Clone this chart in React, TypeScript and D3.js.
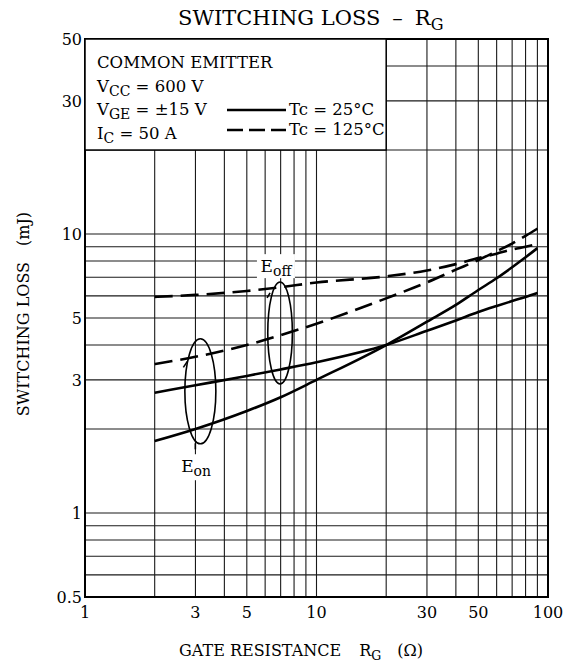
import React from "react";
import * as d3 from "d3";

// ---- data ----
const rgPoints = [2, 3, 5, 7, 10, 20, 30, 40, 50, 60, 70, 80, 90];
const lossHotSteep = [3.42, 3.63, 4.0, 4.34, 4.77, 5.88, 6.71, 7.45, 8.07, 8.68, 9.24, 9.85, 10.45];
const lossHotFlat = [5.95, 6.05, 6.25, 6.45, 6.7, 7.05, 7.4, 7.8, 8.2, 8.5, 8.8, 9.0, 9.2];
const lossRoomSteep = [1.81, 2.0, 2.32, 2.6, 3.0, 4.0, 4.85, 5.57, 6.3, 6.94, 7.6, 8.25, 8.9];
const lossRoomFlat = [2.7, 2.87, 3.1, 3.27, 3.47, 4.0, 4.5, 4.9, 5.25, 5.52, 5.75, 5.95, 6.15];

const xTickValues = [1, 3, 5, 10, 30, 50, 100];
const yTickValues = [0.5, 1, 3, 5, 10, 30, 50];
const xGridValues = [2, 3, 4, 5, 6, 7, 8, 9, 10, 20, 30, 40, 50, 60, 70, 80, 90];
const yGridValues = [0.6, 0.7, 0.8, 0.9, 1, 2, 3, 4, 5, 6, 7, 8, 9, 10, 20, 30, 40];

const legendBoxCorner = { x: 20, y: 20 };

const FONT = "'DejaVu Serif', serif";

export default function App() {
  const left = 85, right = 548, top = 39, bottom = 597;
  const x = d3.scaleLog().domain([1, 100]).range([left, right]);
  const y = d3.scaleLog().domain([0.5, 50]).range([bottom, top]);

  const line = d3
    .line<[number, number]>()
    .x((d) => x(d[0]))
    .y((d) => y(d[1]))
    .curve(d3.curveMonotoneX);

  const series = [
    { values: lossHotSteep, dash: "18,8" },
    { values: lossHotFlat, dash: "18,8" },
    { values: lossRoomSteep, dash: null },
    { values: lossRoomFlat, dash: null },
  ];

  const gridColor = "#1a1a1a";

  // annotation ellipses (data-space centers)
  const eonC = { x: 3.15, y: 2.73 };
  const eoffC = { x: 6.96, y: 4.42 };

  return (
    <svg
      width={568}
      height={668}
      style={{ position: "absolute", left: 0, top: 0, background: "#fff" }}
      fontFamily={FONT}
    >
      <rect x={0} y={0} width={568} height={668} fill="#fff" />
      {/* title */}
      <text x={178} y={25} fontSize={21}>
        SWITCHING LOSS
        <tspan dx={12}>–</tspan>
        <tspan dx={12}>R</tspan>
        <tspan fontSize={16} dy={5}>G</tspan>
      </text>

      {/* grid: vertical */}
      {xGridValues.map((v) => (
        <line
          key={"vx" + v}
          x1={x(v)}
          x2={x(v)}
          y1={y(0.5)}
          y2={v < legendBoxCorner.x ? y(legendBoxCorner.y) : y(50)}
          stroke={gridColor}
          strokeWidth={1.1}
        />
      ))}
      {/* grid: horizontal */}
      {yGridValues.map((v) => (
        <line
          key={"hy" + v}
          x1={v > legendBoxCorner.y ? x(legendBoxCorner.x) : x(1)}
          x2={x(100)}
          y1={y(v)}
          y2={y(v)}
          stroke={gridColor}
          strokeWidth={1.1}
        />
      ))}

      {/* frame */}
      <rect
        x={x(1)}
        y={y(50)}
        width={x(100) - x(1)}
        height={y(0.5) - y(50)}
        fill="none"
        stroke="#000"
        strokeWidth={2}
      />

      {/* curves */}
      {series.map((s, i) => (
        <path
          key={"s" + i}
          d={line(rgPoints.map((r, j) => [r, s.values[j]]) as [number, number][]) || ""}
          fill="none"
          stroke="#000"
          strokeWidth={2.6}
          strokeDasharray={s.dash || undefined}
        />
      ))}

      {/* annotations */}
      <ellipse cx={x(eonC.x)} cy={y(eonC.y)} rx={15.5} ry={52.5} fill="none" stroke="#000" strokeWidth={1.6} />
      <line x1={x(eonC.x) - 5} x2={x(eonC.x) - 5} y1={y(eonC.y) + 52} y2={y(eonC.y) + 58} stroke="#000" strokeWidth={1.6} />
      <path
        d={`M${x(eonC.x) - 13},${y(eonC.y) - 30} l-4,6`}
        fill="none"
        stroke="#000"
        strokeWidth={1.6}
      />
      <ellipse cx={x(eoffC.x)} cy={y(eoffC.y)} rx={12.3} ry={51} fill="none" stroke="#000" strokeWidth={1.6} />
      <path
        d={`M${x(eoffC.x) - 10},${y(eoffC.y) - 40} l-3,5`}
        fill="none"
        stroke="#000"
        strokeWidth={1.6}
      />

      <rect x={x(6.68) - 19} y={y(7.3) - 18} width={38} height={24} fill="#fff" />
      <text x={x(6.68)} y={y(7.3)} textAnchor="middle" fontSize={17}>
        E<tspan fontSize={14} dy={4}>off</tspan>
      </text>
      <rect x={x(3.02) - 19} y={y(1.4) - 18} width={38} height={26} fill="#fff" />
      <text x={x(3.02)} y={y(1.4)} textAnchor="middle" fontSize={17}>
        E<tspan fontSize={14} dy={4}>on</tspan>
      </text>

      {/* legend box */}
      <rect
        x={x(1)}
        y={y(50)}
        width={x(legendBoxCorner.x) - x(1)}
        height={y(legendBoxCorner.y) - y(50)}
        fill="#fff"
        stroke="#000"
        strokeWidth={1.5}
      />
      <g fontSize={16.5}>
        <text x={97} y={68}>COMMON EMITTER</text>
        <text x={97} y={92}>
          V<tspan fontSize={14} dy={4}>CC</tspan>
          <tspan dy={-4}> = 600 V</tspan>
        </text>
        <text x={97} y={115}>
          V<tspan fontSize={14} dy={4}>GE</tspan>
          <tspan dy={-4}> = ±15 V</tspan>
        </text>
        <text x={97} y={139}>
          I<tspan fontSize={14} dy={4}>C</tspan>
          <tspan dy={-4}> = 50 A</tspan>
        </text>
        <line x1={227} x2={286} y1={110} y2={110} stroke="#000" strokeWidth={2.6} />
        <line x1={227} x2={286} y1={130} y2={130} stroke="#000" strokeWidth={2.6} strokeDasharray="16,6" />
        <text x={289} y={115}>Tc = 25°C</text>
        <text x={289} y={135}>Tc = 125°C</text>
      </g>

      {/* tick labels */}
      {yTickValues.map((v) => (
        <text key={"yt" + v} x={left - 3} y={y(v) + 6} textAnchor="end" fontSize={16}>
          {v}
        </text>
      ))}
      {xTickValues.map((v) => (
        <text key={"xt" + v} x={x(v)} y={bottom + 21} textAnchor="middle" fontSize={16}>
          {v}
        </text>
      ))}

      {/* axis titles */}
      <text x={179} y={656} fontSize={16}>
        GATE RESISTANCE
        <tspan dx={18}>R</tspan>
        <tspan fontSize={12.5} dy={4}>G</tspan>
        <tspan dx={16} dy={-4}>(Ω)</tspan>
      </text>
      <text
        transform={`translate(29, 314) rotate(-90)`}
        textAnchor="middle"
        fontSize={16}
      >
        SWITCHING LOSS<tspan dx={16}>(mJ)</tspan>
      </text>
    </svg>
  );
}
